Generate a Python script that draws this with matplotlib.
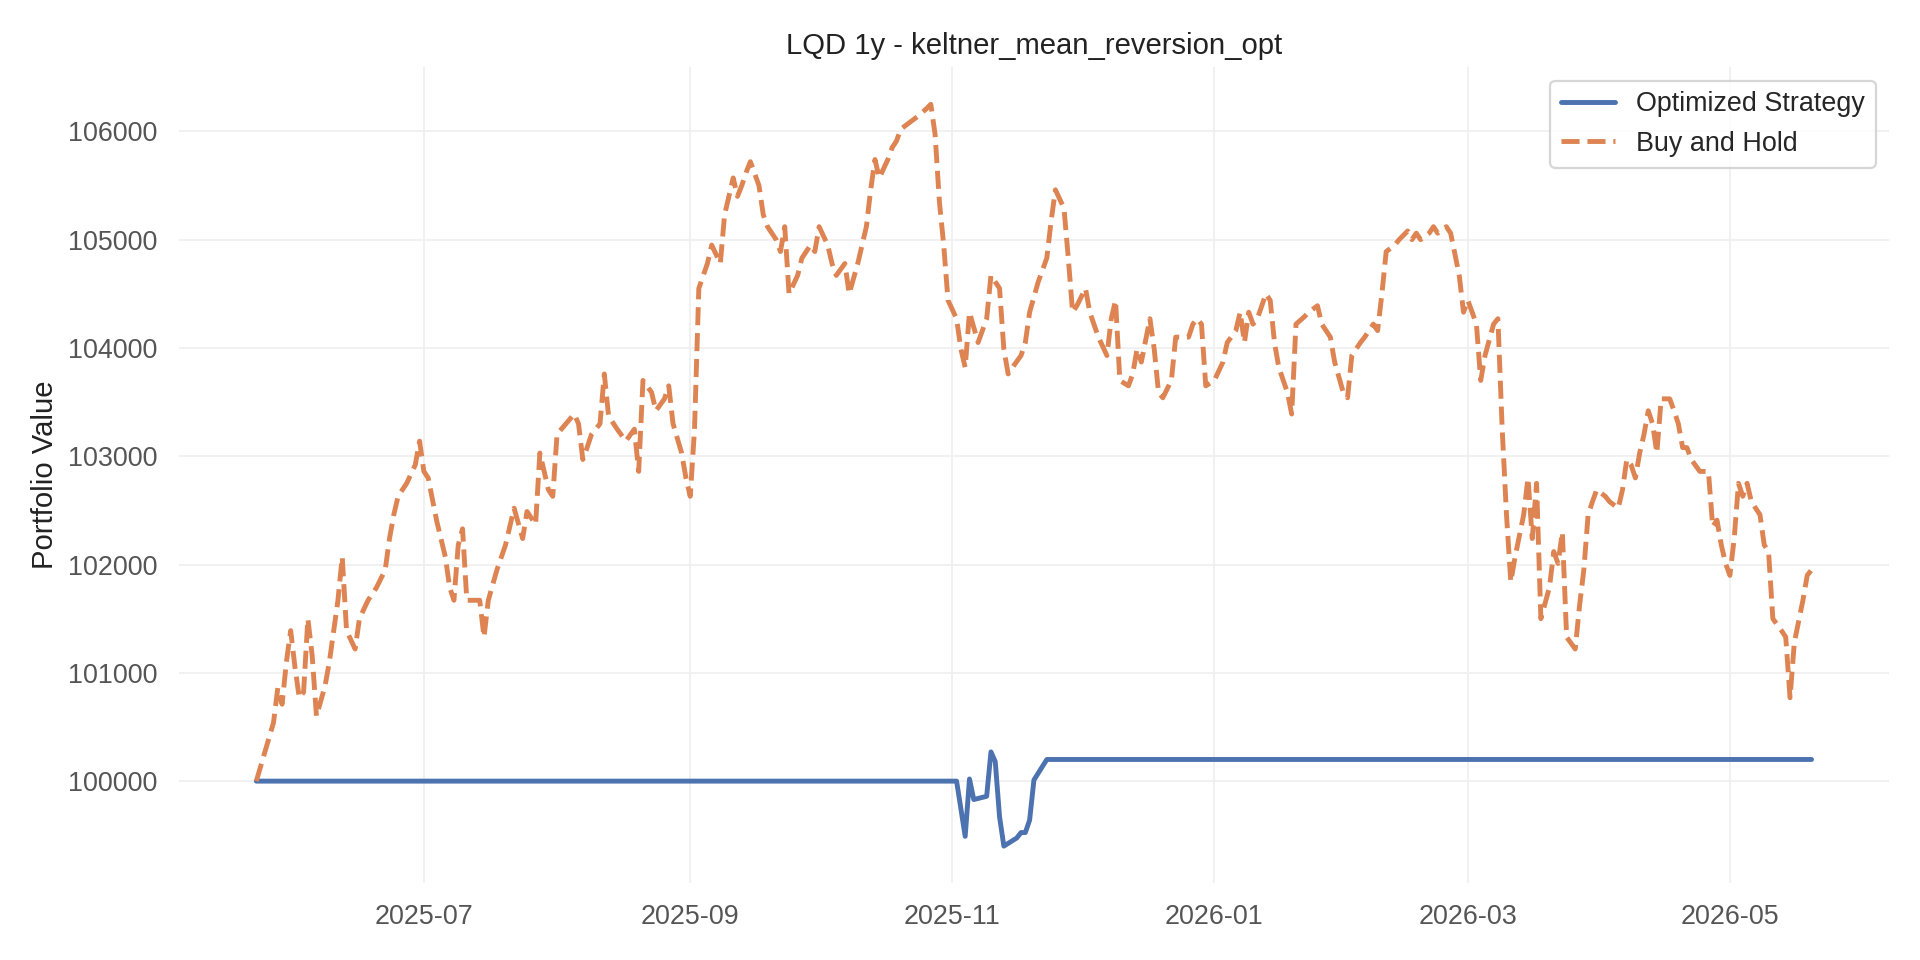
import matplotlib
matplotlib.use("Agg")
import matplotlib.pyplot as plt
import matplotlib.dates as mdates
import seaborn as sns
import pandas as pd

# LQD buy-and-hold vs optimized keltner strategy
start_date = "2025-05-23"

# buy and hold: days since start, portfolio value
bh_days = [0, 4, 5, 6, 7, 8, 9, 10, 11, 12, 13, 14, 16, 17, 19, 20, 21, 23, 24, 26,
           28, 30, 31, 32, 33, 35, 37, 38, 39, 40, 42, 44, 45, 46, 47, 48, 49, 52, 53, 54,
           56, 58, 60, 62, 63, 65, 66, 68, 69, 70, 71, 74, 75, 76, 77, 78, 80, 81, 82, 84,
           86, 88, 89, 90, 92, 93, 95, 96, 97, 99, 100, 101, 102, 103, 105, 106, 108, 109, 111, 112,
           113, 114, 115, 117, 118, 119, 121, 122, 123, 124, 126, 127, 129, 130, 131, 133, 134, 135, 137, 138,
           140, 141, 142, 143, 144, 145, 147, 148, 149, 150, 152, 154, 156, 157, 158, 159, 160, 161, 163, 164,
           165, 166, 168, 169, 170, 171, 173, 174, 175, 176, 178, 179, 180, 182, 184, 185, 186, 188, 189, 190,
           191, 193, 194, 196, 198, 199, 200, 201, 203, 204, 205, 206, 208, 209, 210, 211, 213, 214, 215, 217,
           218, 219, 220, 221, 223, 225, 226, 228, 229, 230, 231, 232, 233, 235, 236, 237, 238, 240, 241, 242,
           244, 245, 247, 248, 250, 251, 253, 254, 255, 257, 258, 260, 261, 262, 263, 265, 266, 268, 269, 270,
           271, 273, 274, 275, 277, 278, 280, 281, 282, 284, 285, 286, 288, 289, 290, 291, 292, 293, 295, 296,
           297, 298, 299, 301, 302, 303, 304, 305, 307, 308, 309, 310, 311, 312, 314, 315, 317, 318, 319, 320,
           321, 322, 323, 324, 325, 326, 327, 329, 330, 331, 332, 333, 334, 336, 337, 338, 339, 340, 341, 342,
           343, 344, 345, 346, 347, 348, 350, 351, 352, 353, 355, 356, 357, 358, 360, 361, 362]
bh_values = [100000, 100540, 100860, 100710, 101100, 101390, 101050, 100770, 100820, 101500, 101160, 100600, 100880, 101100, 101670, 102070, 101390, 101220, 101500, 101670,
             101790, 101950, 102240, 102460, 102630, 102750, 102920, 103140, 102860, 102800, 102400, 102070, 101790, 101670, 102180, 102330, 101670, 101670, 101330, 101670,
             101950, 102180, 102520, 102240, 102490, 102370, 103030, 102690, 102630, 103200, 103250, 103390, 103300, 102970, 103080, 103200, 103300, 103760, 103370, 103250,
             103140, 103250, 102860, 103700, 103590, 103420, 103530, 103650, 103300, 103030, 102800, 102630, 103250, 104550, 104780, 104950, 104780, 105230, 105570, 105400,
             105500, 105620, 105720, 105500, 105230, 105120, 105000, 104890, 105120, 104500, 104670, 104830, 104950, 104890, 105120, 104950, 104780, 104670, 104780, 104500,
             104780, 104950, 105120, 105460, 105740, 105570, 105740, 105850, 105910, 106020, 106080, 106140, 106210, 106250, 105970, 105350, 104950, 104440, 104270, 103990,
             103820, 104330, 104050, 104160, 104270, 104670, 104550, 103990, 103760, 103820, 103930, 104050, 104330, 104610, 104830, 105170, 105460, 105290, 104830, 104330,
             104390, 104550, 104330, 104100, 103930, 104270, 104440, 103700, 103650, 103760, 103990, 103870, 104270, 103990, 103590, 103540, 103700, 104100, 104100, 104100,
             104220, 104270, 104220, 103650, 103700, 103870, 104050, 104160, 104330, 104050, 104330, 104220, 104270, 104500, 104440, 104050, 103820, 103590, 103390, 104220,
             104290, 104330, 104390, 104220, 104100, 103870, 103590, 103540, 103930, 104050, 104100, 104220, 104160, 104500, 104890, 104950, 105000, 105080, 105000, 105060,
             105000, 105060, 105120, 105060, 105120, 105060, 104670, 104330, 104440, 104220, 103700, 103930, 104220, 104270, 103250, 102460, 101840, 102070, 102460, 102800,
             102240, 102750, 101500, 101790, 102120, 102010, 102300, 101330, 101220, 101620, 101950, 102460, 102580, 102690, 102630, 102580, 102520, 102690, 102970, 102920,
             102800, 103030, 103200, 103420, 103300, 103030, 103530, 103530, 103420, 103300, 103080, 103080, 102970, 102860, 102860, 102860, 102350, 102410, 102180, 102010,
             101900, 102240, 102750, 102630, 102750, 102580, 102460, 102180, 102120, 101500, 101390, 101330, 100770, 101280, 101670, 101900, 101950]

# optimized strategy: days since start, portfolio value
strat_days = [0, 163, 165, 166, 167, 170, 171, 172, 173, 174, 177, 178, 179, 180, 181, 184, 362]
strat_values = [100000, 100000, 99490, 100020, 99830, 99860, 100270, 100180, 99670, 99400,
                99475, 99525, 99525, 99640, 100010, 100200, 100200]

title = "LQD 1y - keltner_mean_reversion_opt"

bh_dates = pd.to_datetime(start_date) + pd.to_timedelta(bh_days, unit="D")
strat_dates = pd.to_datetime(start_date) + pd.to_timedelta(strat_days, unit="D")

sns.set_theme(style="whitegrid", font_scale=1.1)
plt.rcParams['font.family'] = ['Liberation Sans', 'DejaVu Sans']

fig, ax = plt.subplots(figsize=(12, 6), dpi=160)
ax.plot(strat_dates, strat_values, color="#4c72b0", lw=2.2, label="Optimized Strategy")
ax.plot(bh_dates, bh_values, color="#dd8452", lw=2.2, ls="--", label="Buy and Hold")

ax.set_title(title, fontsize=13.2, color="#222222")
ax.set_ylabel("Portfolio Value", fontsize=13.2, color="#222222")
ax.xaxis.set_major_locator(mdates.MonthLocator(bymonth=[1, 3, 5, 7, 9, 11]))
ax.xaxis.set_major_formatter(mdates.DateFormatter("%Y-%m"))
ax.tick_params(axis="both", labelsize=12.1, labelcolor="#555555")
ax.grid(True, color="#f0f0f0", lw=0.8)
for s in ax.spines.values():
    s.set_visible(False)
ax.legend(loc="upper right", fontsize=12.1)

plt.subplots_adjust(left=0.093, right=0.984, top=0.930, bottom=0.080)
plt.savefig("out.png")
